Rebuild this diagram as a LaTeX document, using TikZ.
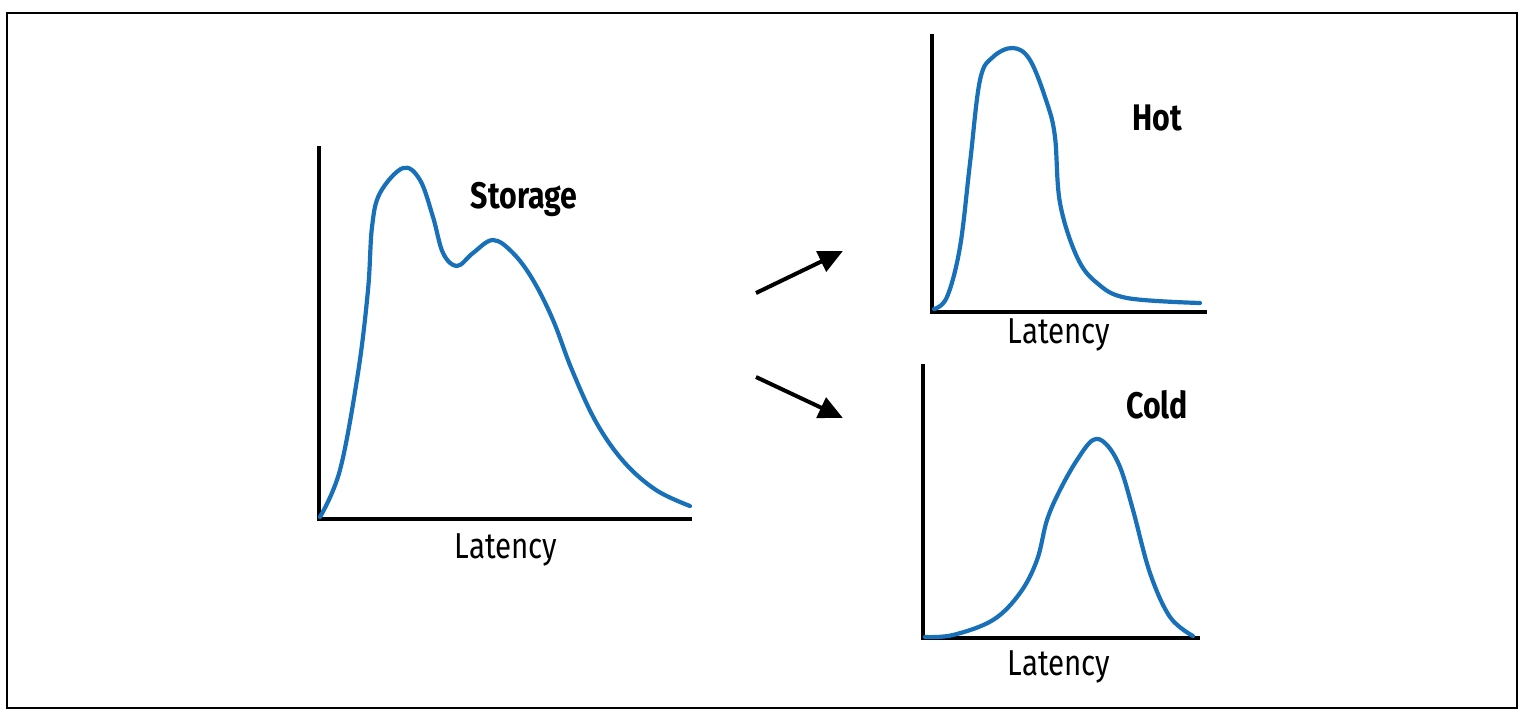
\documentclass[tikz,border=0pt]{standalone}
\usepackage{fontspec}
\setmainfont{Fira Sans}[FakeStretch=0.82]
\usetikzlibrary{arrows.meta}
\definecolor{curveblue}{RGB}{24,113,184}
\begin{document}
\begin{tikzpicture}[x=1pt,y=-1pt,
  axis/.style={line width=3.8pt,black,line cap=rect},
  curve/.style={line width=4.2pt,curveblue,line cap=round,line join=round},
  title/.style={font=\fontsize{37}{42}\selectfont\bfseries,anchor=base,inner sep=0pt},
  axlabel/.style={font=\fontsize{36}{42}\selectfont,anchor=base,inner sep=0pt},
  flow/.style={line width=4pt,-{Triangle[length=24pt,width=22pt]},shorten >=-2pt}]
\useasboundingbox (0,0) rectangle (1524,716);
\draw[line width=1.6pt] (7,13) rectangle (1517,708);

% Storage plot
\coordinate (s0) at (319,148);
\coordinate (s1) at (319,519);
\coordinate (s2) at (690,519);
\draw[axis] (s0) -- (s1) -- (s2);
\draw[curve] plot[smooth,tension=0.6] coordinates {
 (320,517) (340,470) (358,373) (368,290) (372,227) (380,193) (403,168)
 (420,180) (433,217) (443,253) (457,266) (473,253) (493,240) (513,253)
 (533,280) (553,320) (572,370) (596,422) (624,462) (656,490) (690,506)};
\node[title] (storage) at (524,208) {Storage};
\node[axlabel] (lat1) at (506,558) {Latency};

% Hot plot
\coordinate (h0) at (932,36);
\coordinate (h1) at (932,312);
\coordinate (h2) at (1205,312);
\draw[axis] (h0) -- (h1) -- (h2);
\draw[curve] plot[smooth,tension=0.6] coordinates {
 (934,309) (947,297) (960,247) (970,163) (980,80) (993,57) (1013,48)
 (1030,60) (1047,103) (1055,137) (1060,203) (1077,257) (1097,283)
 (1127,298) (1200,303)};
\node[title] (hot) at (1157,130) {Hot};
\node[axlabel] (lat2) at (1059,343) {Latency};

% Cold plot
\coordinate (c0) at (923,366);
\coordinate (c1) at (923,638);
\coordinate (c2) at (1198,638);
\draw[axis] (c0) -- (c1) -- (c2);
\draw[curve] plot[smooth,tension=0.6] coordinates {
 (925,637) (953,635) (993,620) (1020,593) (1037,560) (1047,520) (1060,490)
 (1077,460) (1093,440) (1106,444) (1120,467) (1133,510) (1150,573)
 (1170,617) (1193,636)};
\node[title] (cold) at (1157,418) {Cold};
\node[axlabel] (lat3) at (1059,675) {Latency};

% Arrows
\coordinate (a1s) at (756,293);
\coordinate (a1e) at (841,252);
\coordinate (a2s) at (756,377);
\coordinate (a2e) at (841,417);
\draw[flow] (a1s) -- (a1e);
\draw[flow] (a2s) -- (a2e);
\end{tikzpicture}
\end{document}
